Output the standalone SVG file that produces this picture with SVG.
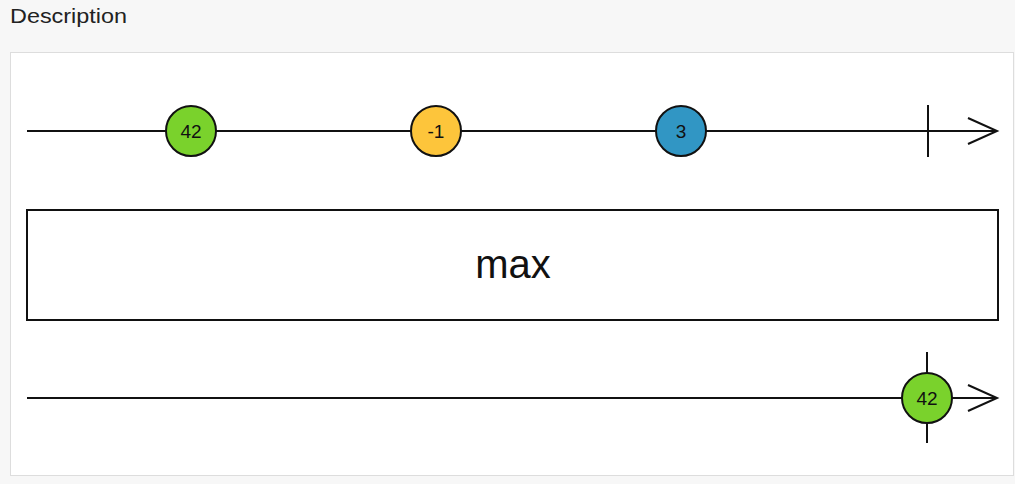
<svg xmlns="http://www.w3.org/2000/svg" width="1015" height="484" viewBox="0 0 1015 484">
<style>
.ln{stroke:#111;stroke-width:2;fill:none}
.c{stroke:#111;stroke-width:2}
.t{font-family:"Liberation Sans",Arial,sans-serif;font-size:19px;fill:#111;text-anchor:middle}
</style>
<rect width="1015" height="484" fill="#f7f7f7"/>
<text x="10" y="23" font-family="Liberation Sans,Arial,sans-serif" font-size="21" fill="#222" textLength="117" lengthAdjust="spacingAndGlyphs">Description</text>
<rect x="10.5" y="52.5" width="1003" height="423" fill="#fff" stroke="#ddd"/>
<g id="connectors">
<line class="ln" x1="27" y1="131" x2="997" y2="131"/>
<polyline class="ln" points="968,118 997,131 968,144"/>
<line class="ln" x1="928" y1="105" x2="928" y2="157"/>
<line class="ln" x1="27" y1="398" x2="997" y2="398"/>
<polyline class="ln" points="968,385 997,398 968,411"/>
<line class="ln" x1="927" y1="352" x2="927" y2="443"/>
</g>
<g id="n42"><circle class="c" cx="191" cy="131" r="25" fill="#7ad22c"/><text class="t" x="191" y="138">42</text></g>
<g id="nm1"><circle class="c" cx="436" cy="131" r="25" fill="#fdc53b"/><text class="t" x="436" y="138">-1</text></g>
<g id="n3"><circle class="c" cx="681" cy="131" r="25" fill="#3196c4"/><text class="t" x="681" y="138">3</text></g>
<g id="max"><rect x="27" y="210" width="971" height="110" fill="#fff" stroke="#111" stroke-width="2"/><text x="513" y="278" font-family="Liberation Sans,Arial,sans-serif" font-size="40" fill="#111" text-anchor="middle">max</text></g>
<g id="out42"><circle class="c" cx="927" cy="398" r="25" fill="#7ad22c"/><text class="t" x="927" y="405">42</text></g>
</svg>
